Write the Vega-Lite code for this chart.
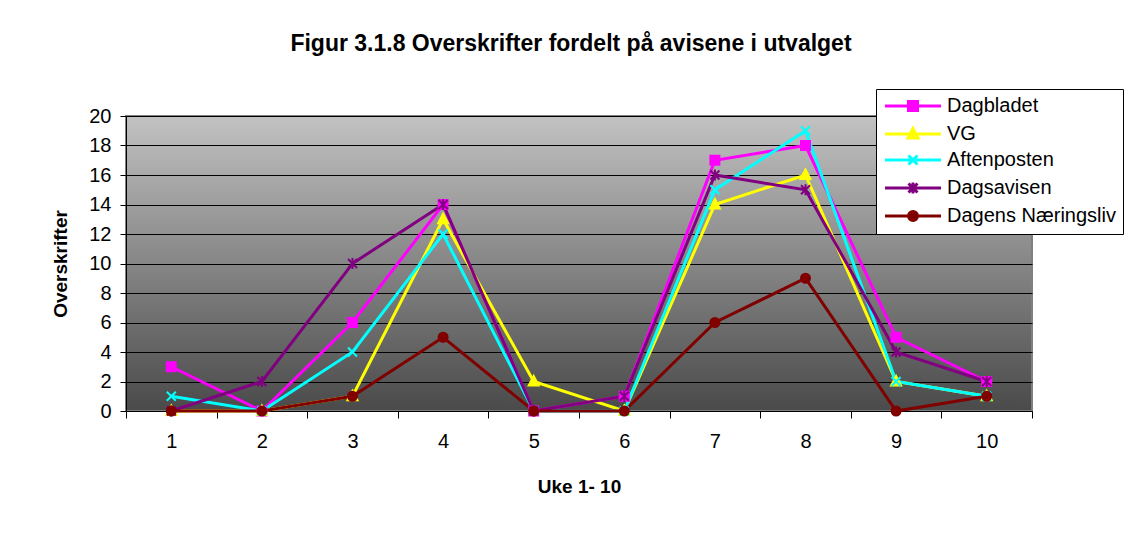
{
  "$schema": "https://vega.github.io/schema/vega-lite/v6.json",
  "autosize": "none",
  "width": 906,
  "height": 295,
  "padding": {"left": 126, "top": 116, "right": 93, "bottom": 123},
  "background": "white",
  "title": {
    "text": "Figur 3.1.8 Overskrifter fordelt på avisene i utvalget",
    "font": "Liberation Sans",
    "fontSize": 23,
    "fontWeight": "bold",
    "color": "black",
    "anchor": "middle",
    "dx": -8,
    "offset": 33
  },
  "data": {
    "values": [
      {"week": 1, "series": "Dagbladet", "v": 3},
      {"week": 2, "series": "Dagbladet", "v": 0},
      {"week": 3, "series": "Dagbladet", "v": 6},
      {"week": 4, "series": "Dagbladet", "v": 14},
      {"week": 5, "series": "Dagbladet", "v": 0},
      {"week": 6, "series": "Dagbladet", "v": 1},
      {"week": 7, "series": "Dagbladet", "v": 17},
      {"week": 8, "series": "Dagbladet", "v": 18},
      {"week": 9, "series": "Dagbladet", "v": 5},
      {"week": 10, "series": "Dagbladet", "v": 2},
      {"week": 1, "series": "VG", "v": 0},
      {"week": 2, "series": "VG", "v": 0},
      {"week": 3, "series": "VG", "v": 1},
      {"week": 4, "series": "VG", "v": 13},
      {"week": 5, "series": "VG", "v": 2},
      {"week": 6, "series": "VG", "v": 0},
      {"week": 7, "series": "VG", "v": 14},
      {"week": 8, "series": "VG", "v": 16},
      {"week": 9, "series": "VG", "v": 2},
      {"week": 10, "series": "VG", "v": 1},
      {"week": 1, "series": "Aftenposten", "v": 1},
      {"week": 2, "series": "Aftenposten", "v": 0},
      {"week": 3, "series": "Aftenposten", "v": 4},
      {"week": 4, "series": "Aftenposten", "v": 12},
      {"week": 5, "series": "Aftenposten", "v": 0},
      {"week": 6, "series": "Aftenposten", "v": 0},
      {"week": 7, "series": "Aftenposten", "v": 15},
      {"week": 8, "series": "Aftenposten", "v": 19},
      {"week": 9, "series": "Aftenposten", "v": 2},
      {"week": 10, "series": "Aftenposten", "v": 1},
      {"week": 1, "series": "Dagsavisen", "v": 0},
      {"week": 2, "series": "Dagsavisen", "v": 2},
      {"week": 3, "series": "Dagsavisen", "v": 10},
      {"week": 4, "series": "Dagsavisen", "v": 14},
      {"week": 5, "series": "Dagsavisen", "v": 0},
      {"week": 6, "series": "Dagsavisen", "v": 1},
      {"week": 7, "series": "Dagsavisen", "v": 16},
      {"week": 8, "series": "Dagsavisen", "v": 15},
      {"week": 9, "series": "Dagsavisen", "v": 4},
      {"week": 10, "series": "Dagsavisen", "v": 2},
      {"week": 1, "series": "Dagens Næringsliv", "v": 0},
      {"week": 2, "series": "Dagens Næringsliv", "v": 0},
      {"week": 3, "series": "Dagens Næringsliv", "v": 1},
      {"week": 4, "series": "Dagens Næringsliv", "v": 5},
      {"week": 5, "series": "Dagens Næringsliv", "v": 0},
      {"week": 6, "series": "Dagens Næringsliv", "v": 0},
      {"week": 7, "series": "Dagens Næringsliv", "v": 6},
      {"week": 8, "series": "Dagens Næringsliv", "v": 9},
      {"week": 9, "series": "Dagens Næringsliv", "v": 0},
      {"week": 10, "series": "Dagens Næringsliv", "v": 1}
    ]
  },
  "encoding": {
    "x": {
      "field": "week",
      "type": "ordinal",
      "scale": {"type": "band", "paddingInner": 0, "paddingOuter": 0},
      "axis": {
        "title": "Uke 1- 10",
        "labelAngle": 0,
        "tickBand": "extent",
        "tickSize": 7,
        "tickColor": "black",
        "domainColor": "black",
        "labelPadding": 13,
        "titlePadding": 26,
        "grid": false
      }
    },
    "y": {
      "field": "v",
      "type": "quantitative",
      "scale": {"domain": [0, 20], "nice": false},
      "axis": {
        "title": "Overskrifter",
        "values": [0, 2, 4, 6, 8, 10, 12, 14, 16, 18, 20],
        "tickSize": 6,
        "tickColor": "black",
        "domainColor": "black",
        "grid": true,
        "gridColor": "black",
        "gridOpacity": 1,
        "gridWidth": 1,
        "labelPadding": 9,
        "titlePadding": 18
      }
    }
  },
  "layer": [
    {
      "mark": {"type": "line", "strokeWidth": 3},
      "encoding": {
        "color": {
          "field": "series",
          "type": "nominal",
          "sort": null,
          "scale": {
            "domain": ["Dagbladet", "VG", "Aftenposten", "Dagsavisen", "Dagens Næringsliv"],
            "range": ["#ff00ff", "#ffff00", "#00ffff", "#800080", "#800000"]
          },
          "legend": {
            "title": null,
            "orient": "none",
            "legendX": 750,
            "legendY": -27,
            "padding": 7,
            "fillColor": "white",
            "strokeColor": "black",
            "symbolSize": 100,
            "symbolOffset": 20,
            "labelOffset": 24,
            "rowPadding": 5,
            "symbolStrokeWidth": 3,
            "labelFont": "Liberation Sans",
            "labelFontSize": 20,
            "labelColor": "black",
            "labelLimit": 400,
            "encode": {
              "symbols": {
                "update": {
                  "shape": {"signal": "datum.value == 'Dagbladet' ? 'M-5.6,0H5.6M-0.9,-0.9H0.9V0.9H-0.9Z' : datum.value == 'VG' ? 'M-5.6,0H5.6M0,-1.1L1,0.8H-1Z' : datum.value == 'Aftenposten' ? 'M-5.6,0H5.6M-0.9,-0.9L0.9,0.9M-0.9,0.9L0.9,-0.9' : datum.value == 'Dagsavisen' ? 'M-5.6,0H5.6M-0.9,-0.9L0.9,0.9M-0.9,0.9L0.9,-0.9M0,-1.1V1.1' : 'M-5.6,0H5.6M-0.9,0A0.9,0.9,0,1,0,0.9,0A0.9,0.9,0,1,0,-0.9,0'"},
                  "fill": {"scale": "color", "field": "value"},
                  "stroke": {"scale": "color", "field": "value"},
                  "strokeWidth": {"value": 3},
                  "size": {"value": 100},
                  "opacity": {"value": 1},
                  "fillOpacity": {"value": 1}
                }
              }
            }
          }
        }
      }
    },
    {
      "mark": {
        "type": "point",
        "filled": true,
        "size": 100,
        "strokeWidth": 2,
        "opacity": 1,
        "fill": {"expr": "scale('color', datum.series)"},
        "stroke": {"expr": "scale('color', datum.series)"},
        "shape": {"expr": "datum.series == 'Dagbladet' ? 'M-0.9,-0.9H0.9V0.9H-0.9Z' : datum.series == 'VG' ? 'M0,-1.1L1,0.8H-1Z' : datum.series == 'Aftenposten' ? 'M-0.9,-0.9L0.9,0.9M-0.9,0.9L0.9,-0.9' : datum.series == 'Dagsavisen' ? 'M-0.9,-0.9L0.9,0.9M-0.9,0.9L0.9,-0.9M0,-1.1V1.1' : 'M-0.9,0A0.9,0.9,0,1,0,0.9,0A0.9,0.9,0,1,0,-0.9,0'"}
      },
      "encoding": {}
    }
  ],
  "config": {
    "font": "Liberation Sans",
    "view": {
      "fill": {
        "gradient": "linear",
        "x1": 0, "y1": 0, "x2": 0, "y2": 1,
        "stops": [
          {"offset": 0, "color": "#c2c2c2"},
          {"offset": 1, "color": "#4a4a4a"}
        ]
      },
      "stroke": "#808080",
      "strokeWidth": 2
    },
    "axis": {
      "labelFont": "Liberation Sans",
      "labelFontSize": 20,
      "labelColor": "black",
      "titleFont": "Liberation Sans",
      "titleFontSize": 19,
      "titleFontWeight": "bold",
      "titleColor": "black"
    }
  }
}
